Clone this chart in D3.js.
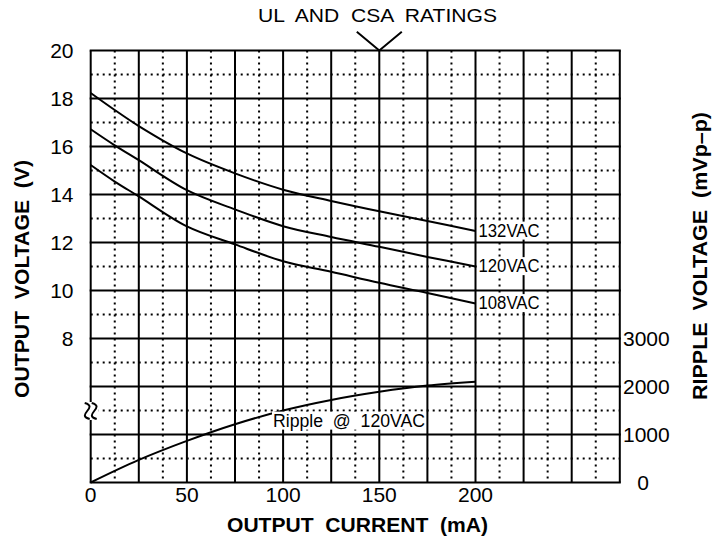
<!DOCTYPE html>
<html>
<head>
<meta charset="utf-8">
<script src="https://cdn.jsdelivr.net/npm/d3@7"></script>
<style>
  body { margin: 0; background: #fff; }
  svg { display: block; font-family: "Liberation Sans", Arial, sans-serif; }
  text { white-space: pre; }
</style>
</head>
<body>
<div id="chart"></div>
<script>
// output current (mA) where the curves were read
const currents = [0, 12.5, 25, 50, 75, 100, 125, 150, 175, 200];
const v132 = [18.23, 17.52, 16.85, 15.71, 14.88, 14.2, 13.73, 13.3, 12.9, 12.48];
const v120 = [16.72, 16.05, 15.43, 14.18, 13.38, 12.68, 12.23, 11.82, 11.4, 11.0];
const v108 = [15.23, 14.54, 13.92, 12.67, 11.92, 11.22, 10.78, 10.32, 9.9, 9.46];

const rippleCurrents = [0, 25, 50, 75, 100, 125, 150, 175, 200];
const rippleMv = [0, 470, 867, 1214, 1500, 1720, 1890, 2020, 2100];

const xTicks = [0, 50, 100, 150, 200];
const voltTicks = [20, 18, 16, 14, 12, 10, 8];
const rippleTicks = [3000, 2000, 1000, 0];

const series = [
    { label: '132VAC', values: v132 },
    { label: '120VAC', values: v120 },
    { label: '108VAC', values: v108 }
];

const W = 728, H = 539;
const plot = { left: 90.7, right: 619.8, top: 50.5, bottom: 482.5 };

const x = d3.scaleLinear().domain([0, 275]).range([plot.left, plot.right]);
const y = d3.scaleLinear().domain([2, 20]).range([plot.bottom, plot.top]);
const yR = d3.scaleLinear().domain([0, 3000]).range([plot.bottom, plot.bottom - 3 * 48]);

const svg = d3.select('#chart').append('svg')
    .attr('width', W)
    .attr('height', H);

svg.append('rect').attr('width', W).attr('height', H).attr('fill', '#fff');

const grid = svg.append('g');

// dotted minor grid (half steps)
const minorX = d3.range(12.5, 275, 25);
const minorY = d3.range(3, 20, 2);
grid.selectAll('.mx').data(minorX).join('line')
    .attr('x1', d => x(d)).attr('x2', d => x(d))
    .attr('y1', plot.top).attr('y2', plot.bottom)
    .attr('stroke', '#000').attr('stroke-width', 2)
    .attr('stroke-dasharray', '2,4');
grid.selectAll('.my').data(minorY).join('line')
    .attr('x1', plot.left).attr('x2', plot.right)
    .attr('y1', d => y(d)).attr('y2', d => y(d))
    .attr('stroke', '#000').attr('stroke-width', 2)
    .attr('stroke-dasharray', '2,4');

// solid major grid
const majorX = d3.range(0, 276, 25);
const majorY = d3.range(2, 21, 2);
grid.selectAll('.Mx').data(majorX).join('line')
    .attr('x1', d => x(d)).attr('x2', d => x(d))
    .attr('y1', plot.top).attr('y2', plot.bottom)
    .attr('stroke', '#000').attr('stroke-width', 2);
grid.selectAll('.My').data(majorY).join('line')
    .attr('x1', plot.left - 1).attr('x2', plot.right + 1)
    .attr('y1', d => y(d)).attr('y2', d => y(d))
    .attr('stroke', '#000').attr('stroke-width', 2);

// curves
const line = d3.line().curve(d3.curveCatmullRom.alpha(0.5));
const curves = svg.append('g');
series.forEach(s => {
    const pts = currents.map((c, i) => [x(c), y(s.values[i])]);
    curves.append('path')
        .attr('d', line(pts))
        .attr('fill', 'none').attr('stroke', '#000').attr('stroke-width', 2);
});
const ripplePts = rippleCurrents.map((c, i) => [x(c), yR(rippleMv[i])]);
curves.append('path')
    .attr('d', line(ripplePts))
    .attr('fill', 'none').attr('stroke', '#000').attr('stroke-width', 2);

// label with white box behind it
function boxedLabel(tx, ty, txt, size, len) {
    const g = svg.append('g');
    const bg = g.append('rect').attr('fill', '#fff');
    const t = g.append('text')
        .attr('x', tx).attr('y', ty)
        .attr('dominant-baseline', 'middle')
        .attr('font-size', size)
        .text(txt);
    if (len) t.attr('textLength', len).attr('lengthAdjust', 'spacingAndGlyphs');
    const b = t.node().getBBox();
    bg.attr('x', b.x - 1).attr('y', b.y + 1).attr('width', b.width + 2).attr('height', b.height - 2);
}

series.forEach(s => {
    const last = s.values[s.values.length - 1];
    boxedLabel(x(200) + 3, y(last) + 1, s.label, 17.5, 61);
});
boxedLabel(273, 422, 'Ripple  @  120VAC', 17.5, 152);

// break mark on the left axis
const bx = plot.left, by = 411;
svg.append('rect').attr('x', bx - 8).attr('y', by - 9).attr('width', 16).attr('height', 18).attr('fill', '#fff');
[-3.5, 3.5].forEach(dx => {
    svg.append('path')
        .attr('d', `M${bx + dx - 2.5},${by - 8} C${bx + dx + 12},${by - 4} ${bx + dx - 12},${by + 4} ${bx + dx + 2.5},${by + 8}`)
        .attr('fill', 'none').attr('stroke', '#000').attr('stroke-width', 2);
});

// tick labels
const tickFont = 21;
svg.append('g').selectAll('text').data(xTicks).join('text')
    .attr('x', d => x(d)).attr('y', 502)
    .attr('text-anchor', 'middle').attr('font-size', tickFont)
    .text(d => d);
svg.append('g').selectAll('text').data(voltTicks).join('text')
    .attr('x', 73.5).attr('y', d => y(d) + 7.5)
    .attr('text-anchor', 'end').attr('font-size', tickFont)
    .text(d => d);
svg.append('g').selectAll('text').data(rippleTicks).join('text')
    .attr('x', d => d === 0 ? 643 : 623).attr('y', d => yR(d) + 7.5)
    .attr('text-anchor', d => d === 0 ? 'middle' : 'start')
    .attr('font-size', tickFont)
    .text(d => d);

// titles
svg.append('text')
    .attr('x', 258).attr('y', 21.7)
    .attr('font-size', 18.5)
    .attr('textLength', 239).attr('lengthAdjust', 'spacingAndGlyphs')
    .text('UL  AND  CSA  RATINGS');
const mark = x(150);
svg.append('path')
    .attr('d', `M${mark - 22.5},31.7 L${mark},${plot.top} L${mark + 22.5},31.7`)
    .attr('fill', 'none').attr('stroke', '#000').attr('stroke-width', 2);

svg.append('text')
    .attr('x', 227).attr('y', 531.5)
    .attr('font-size', 20).attr('font-weight', 'bold')
    .attr('textLength', 261).attr('lengthAdjust', 'spacingAndGlyphs')
    .text('OUTPUT  CURRENT  (mA)');

svg.append('text')
    .attr('transform', 'translate(29,398) rotate(-90)')
    .attr('font-size', 20).attr('font-weight', 'bold')
    .attr('textLength', 238).attr('lengthAdjust', 'spacingAndGlyphs')
    .text('OUTPUT  VOLTAGE  (V)');

svg.append('text')
    .attr('transform', 'translate(707,400) rotate(-90)')
    .attr('font-size', 20).attr('font-weight', 'bold')
    .attr('textLength', 288).attr('lengthAdjust', 'spacingAndGlyphs')
    .text('RIPPLE  VOLTAGE  (mVp\u2013p)');
</script>
</body>
</html>
